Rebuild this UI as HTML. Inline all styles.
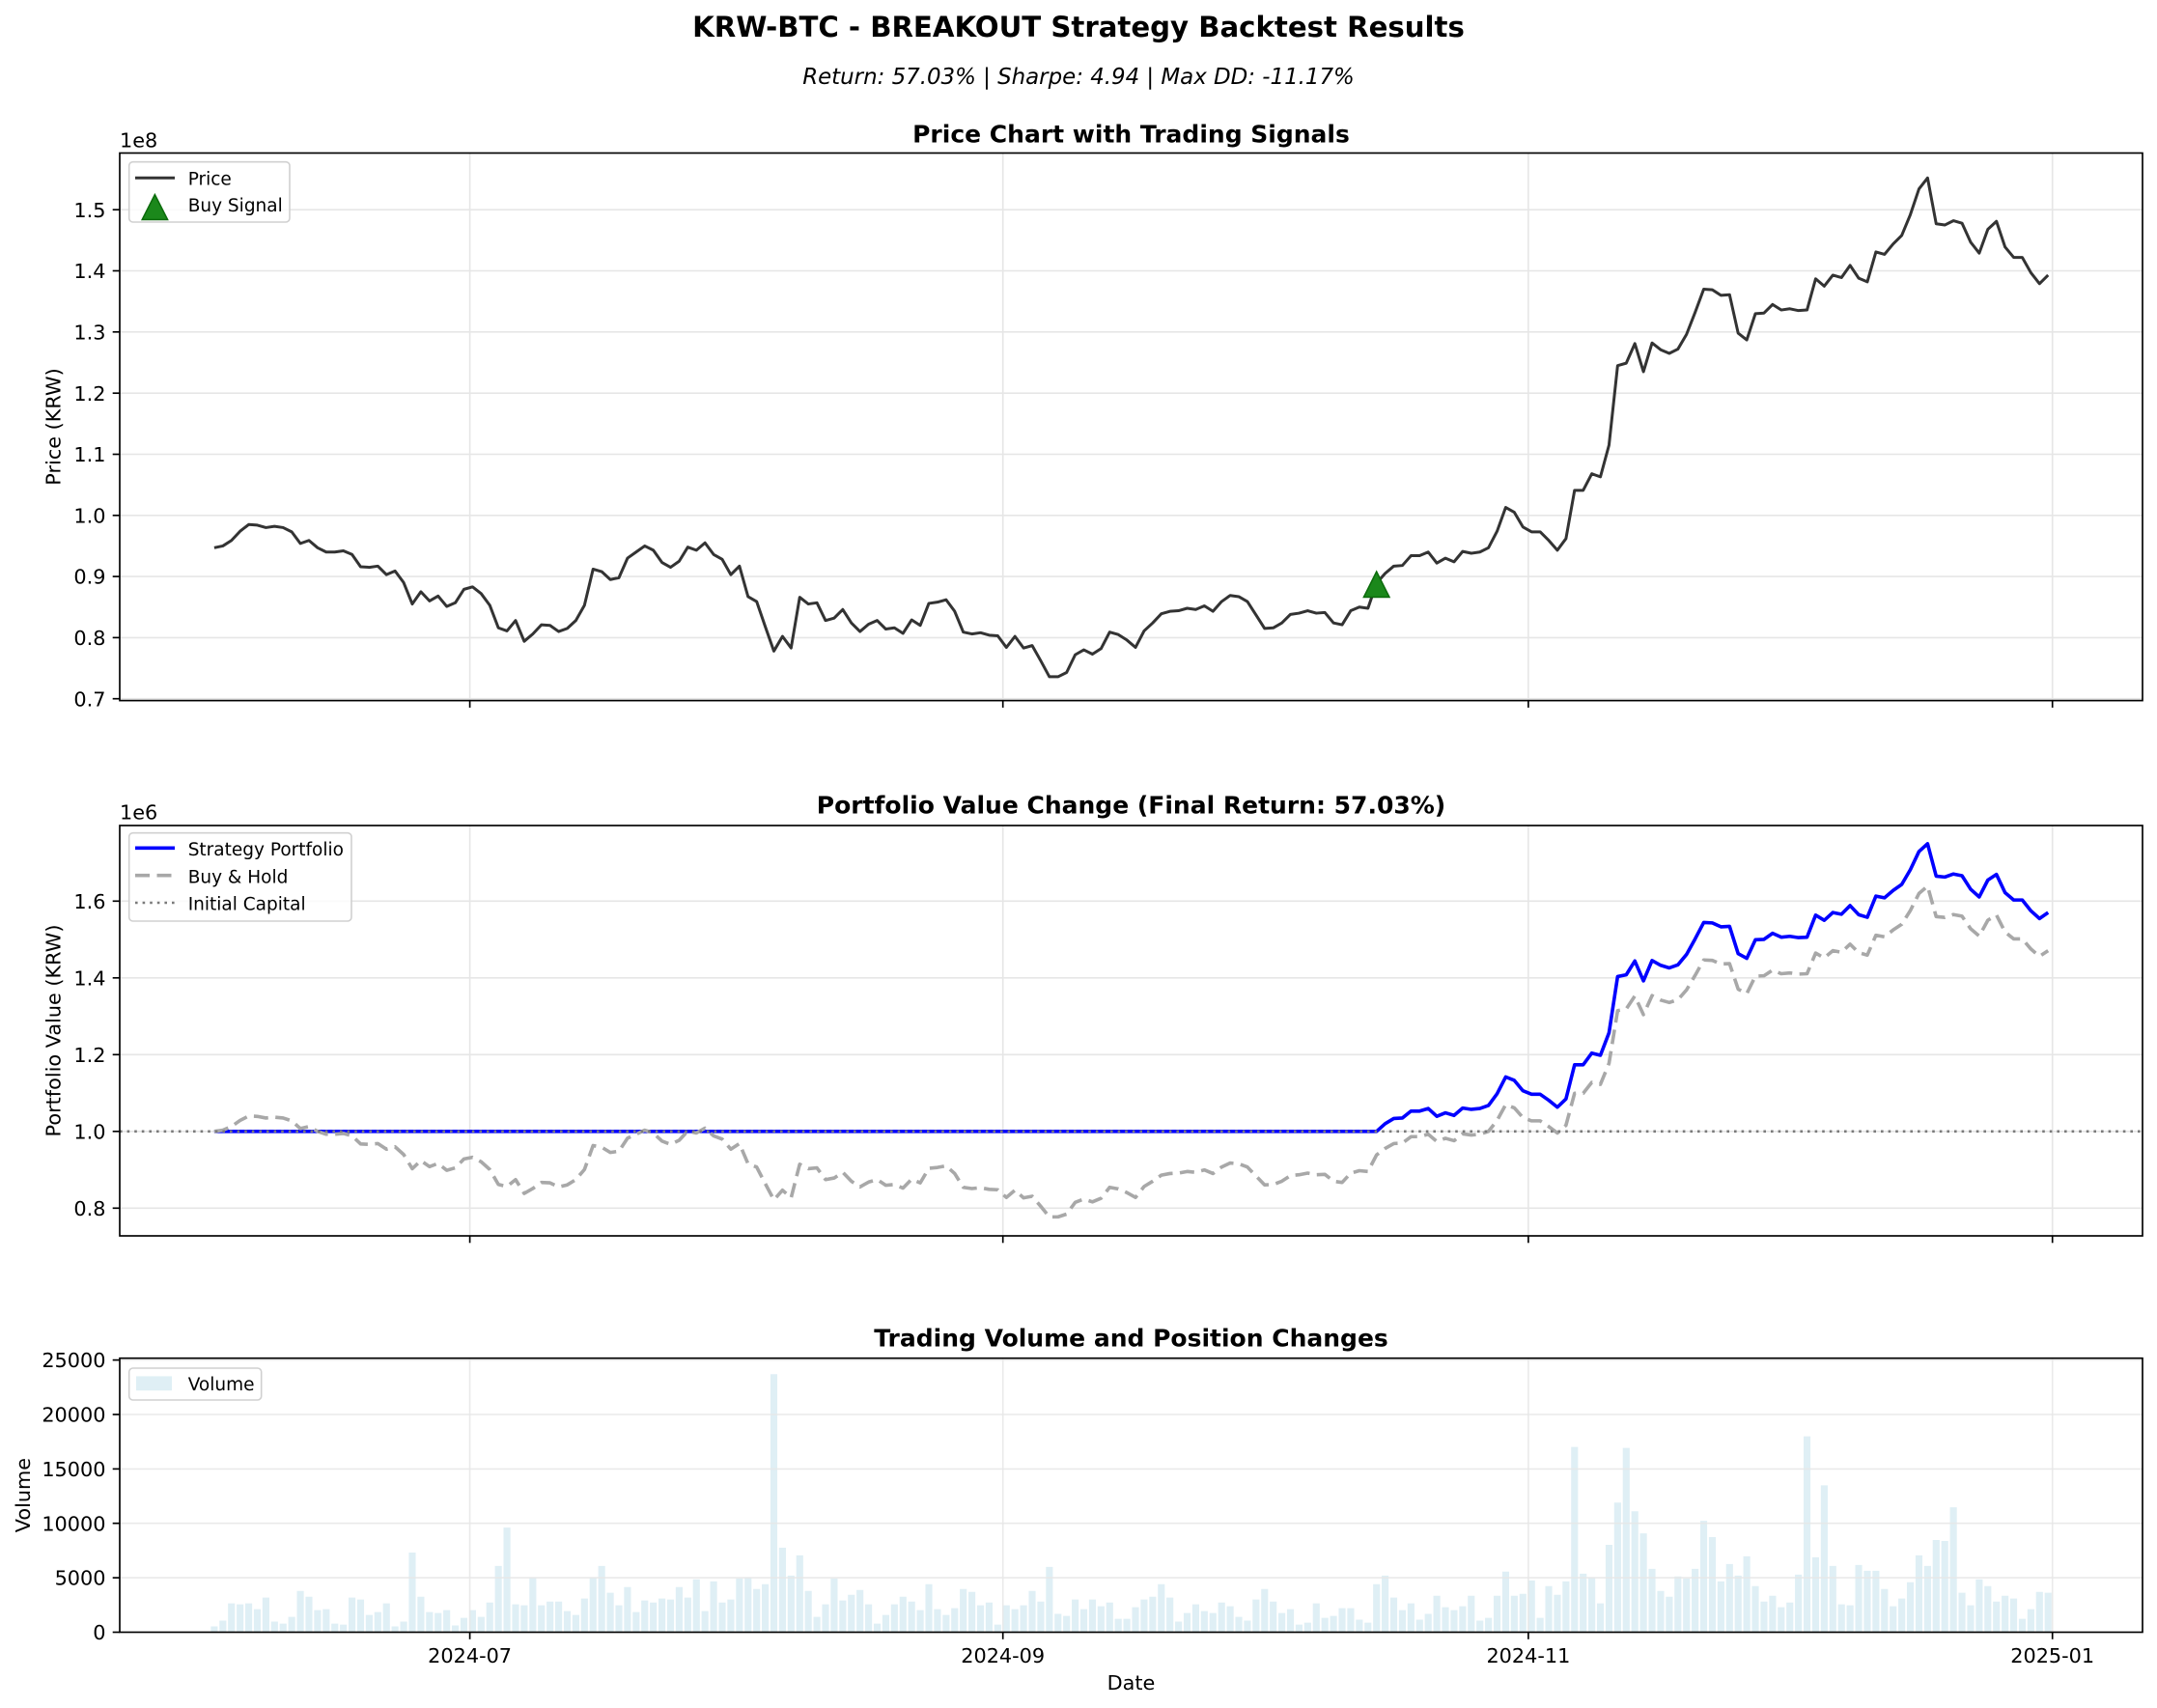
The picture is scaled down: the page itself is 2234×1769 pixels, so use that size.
<!DOCTYPE html>
<html>
<head>
<meta charset="utf-8">
<style>
html,body{margin:0;padding:0;background:#fff;}
svg{display:block;}
text{font-family:"DejaVu Sans","Liberation Sans",sans-serif;fill:#000;}
</style>
</head>
<body>
<svg width="2234" height="1769" viewBox="0 0 2234 1769" xmlns="http://www.w3.org/2000/svg">
<rect x="0" y="0" width="2234" height="1769" fill="#fff"/>

<!-- Titles -->
<text x="1117" y="38" font-size="29.2" font-weight="bold" text-anchor="middle">KRW-BTC - BREAKOUT Strategy Backtest Results</text>
<text x="1117" y="87" font-size="22.9" font-style="italic" text-anchor="middle">Return: 57.03% | Sharpe: 4.94 | Max DD: -11.17%</text>

<!-- ================= PRICE AXES ================= -->
<text x="1171.5" y="147.5" font-size="25" font-weight="bold" text-anchor="middle">Price Chart with Trading Signals</text>
<text x="124" y="152.5" font-size="20.8">1e8</text>
<g stroke="#e6e6e6" stroke-width="1.6">
<line x1="124" x2="2219" y1="217.2" y2="217.2"/>
<line x1="124" x2="2219" y1="280.5" y2="280.5"/>
<line x1="124" x2="2219" y1="343.8" y2="343.8"/>
<line x1="124" x2="2219" y1="407.2" y2="407.2"/>
<line x1="124" x2="2219" y1="470.5" y2="470.5"/>
<line x1="124" x2="2219" y1="533.8" y2="533.8"/>
<line x1="124" x2="2219" y1="597.1" y2="597.1"/>
<line x1="124" x2="2219" y1="660.4" y2="660.4"/>
<line x1="124" x2="2219" y1="723.7" y2="723.7"/>
<line x1="486.6" x2="486.6" y1="158.5" y2="725.6"/>
<line x1="1038.7" x2="1038.7" y1="158.5" y2="725.6"/>
<line x1="1582.9" x2="1582.9" y1="158.5" y2="725.6"/>
<line x1="2125.7" x2="2125.7" y1="158.5" y2="725.6"/>
</g>
<polyline transform="matrix(8.917 0 0 -633.1 221.9 1166.87)" vector-effect="non-scaling-stroke" fill="none" stroke="#333333" stroke-width="3.0" stroke-linejoin="round" points="0,.947 1,.950 2,.959 3,.974 4,.985 5,.984 6,.980 7,.982 8,.980 9,.973 10,.954 11,.959 12,.947 13,.940 14,.940 15,.942 16,.936 17,.916 18,.915 19,.917 20,.903 21,.909 22,.890 23,.855 24,.875 25,.860 26,.868 27,.851 28,.857 29,.879 30,.883 31,.872 32,.853 33,.816 34,.811 35,.828 36,.794 37,.806 38,.821 39,.820 40,.810 41,.815 42,.828 43,.853 44,.912 45,.908 46,.895 47,.898 48,.930 49,.940 50,.950 51,.943 52,.923 53,.915 54,.925 55,.948 56,.943 57,.955 58,.936 59,.928 60,.903 61,.917 62,.867 63,.859 64,.818 65,.778 66,.802 67,.783 68,.866 69,.855 70,.857 71,.828 72,.832 73,.846 74,.824 75,.810 76,.822 77,.828 78,.814 79,.816 80,.807 81,.829 82,.820 83,.856 84,.858 85,.862 86,.843 87,.809 88,.806 89,.808 90,.804 91,.803 92,.784 93,.802 94,.783 95,.787 96,.762 97,.736 98,.736 99,.743 100,.772 101,.780 102,.773 103,.782 104,.809 105,.805 106,.796 107,.784 108,.811 109,.824 110,.839 111,.843 112,.844 113,.848 114,.846 115,.852 116,.843 117,.859 118,.869 119,.867 120,.859 121,.837 122,.815 123,.816 124,.824 125,.838 126,.840 127,.844 128,.840 129,.841 130,.824 131,.821 132,.844 133,.850 134,.848 135,.889 136,.905 137,.917 138,.918 139,.934 140,.934 141,.940 142,.922 143,.930 144,.924 145,.941 146,.938 147,.940 148,.947 149,.974 150,1.013 151,1.005 152,.981 153,.973 154,.973 155,.959 156,.943 157,.962 158,1.041 159,1.041 160,1.068 161,1.063 162,1.115 163,1.245 164,1.249 165,1.281 166,1.235 167,1.282 168,1.271 169,1.265 170,1.272 171,1.296 172,1.332 173,1.370 174,1.369 175,1.360 176,1.361 177,1.298 178,1.287 179,1.330 180,1.331 181,1.345 182,1.336 183,1.338 184,1.335 185,1.336 186,1.387 187,1.375 188,1.393 189,1.389 190,1.409 191,1.388 192,1.382 193,1.431 194,1.427 195,1.444 196,1.458 197,1.492 198,1.534 199,1.552 200,1.477 201,1.475 202,1.482 203,1.478 204,1.447 205,1.429 206,1.468 207,1.481 208,1.439 209,1.422 210,1.422 211,1.397 212,1.379 213,1.393"/>
<!-- Buy signal marker -->
<polygon points="1425.7,592 1412.4,618.5 1439,618.5" fill="#1b881b" stroke="#0b6b0b" stroke-width="1.5" stroke-linejoin="miter"/>
<!-- spines -->
<rect x="124" y="158.5" width="2095" height="567.1" fill="none" stroke="#000" stroke-width="1.67"/>
<!-- ticks -->
<g stroke="#000" stroke-width="1.67">
<line x1="116.7" x2="124" y1="217.2" y2="217.2"/>
<line x1="116.7" x2="124" y1="280.5" y2="280.5"/>
<line x1="116.7" x2="124" y1="343.8" y2="343.8"/>
<line x1="116.7" x2="124" y1="407.2" y2="407.2"/>
<line x1="116.7" x2="124" y1="470.5" y2="470.5"/>
<line x1="116.7" x2="124" y1="533.8" y2="533.8"/>
<line x1="116.7" x2="124" y1="597.1" y2="597.1"/>
<line x1="116.7" x2="124" y1="660.4" y2="660.4"/>
<line x1="116.7" x2="124" y1="723.7" y2="723.7"/>
<line x1="486.6" x2="486.6" y1="725.6" y2="732.9"/>
<line x1="1038.7" x2="1038.7" y1="725.6" y2="732.9"/>
<line x1="1582.9" x2="1582.9" y1="725.6" y2="732.9"/>
<line x1="2125.7" x2="2125.7" y1="725.6" y2="732.9"/>
</g>
<g font-size="20.8" text-anchor="end">
<text x="109.5" y="224.8">1.5</text>
<text x="109.5" y="288.1">1.4</text>
<text x="109.5" y="351.4">1.3</text>
<text x="109.5" y="414.8">1.2</text>
<text x="109.5" y="478.1">1.1</text>
<text x="109.5" y="541.4">1.0</text>
<text x="109.5" y="604.7">0.9</text>
<text x="109.5" y="668.0">0.8</text>
<text x="109.5" y="731.3">0.7</text>
</g>
<text transform="translate(62.5,442) rotate(-90)" font-size="20.8" text-anchor="middle">Price (KRW)</text>
<!-- legend -->
<rect x="133.7" y="167.7" width="166.3" height="62.3" rx="4" ry="4" fill="#fff" fill-opacity="0.8" stroke="#d0d0d0" stroke-width="1.6"/>
<line x1="140" x2="181" y1="184.3" y2="184.3" stroke="#333333" stroke-width="3.0"/>
<polygon points="160.4,201.5 147.2,227.5 173.6,227.5" fill="#1b881b" stroke="#0b6b0b" stroke-width="1.5"/>
<text x="194.7" y="191.5" font-size="18.5">Price</text>
<text x="194.7" y="219.2" font-size="18.5">Buy Signal</text>

<!-- ================= PORTFOLIO AXES ================= -->
<text x="1171.5" y="842.5" font-size="25" font-weight="bold" text-anchor="middle">Portfolio Value Change (Final Return: 57.03%)</text>
<text x="124" y="848.5" font-size="20.8">1e6</text>
<g stroke="#e6e6e6" stroke-width="1.6">
<line x1="124" x2="2219" y1="933.3" y2="933.3"/>
<line x1="124" x2="2219" y1="1012.8" y2="1012.8"/>
<line x1="124" x2="2219" y1="1092.3" y2="1092.3"/>
<line x1="124" x2="2219" y1="1171.8" y2="1171.8"/>
<line x1="124" x2="2219" y1="1251.3" y2="1251.3"/>
<line x1="486.6" x2="486.6" y1="855" y2="1280"/>
<line x1="1038.7" x2="1038.7" y1="855" y2="1280"/>
<line x1="1582.9" x2="1582.9" y1="855" y2="1280"/>
<line x1="2125.7" x2="2125.7" y1="855" y2="1280"/>
</g>
<!-- strategy -->
<polyline transform="matrix(8.917 0 0 -448.09 221.9 1569.3)" vector-effect="non-scaling-stroke" fill="none" stroke="#0000ff" stroke-width="3.6" stroke-linejoin="round" points="0,.8871 135,.8871 136,.905 137,.917 138,.918 139,.934 140,.934 141,.940 142,.922 143,.930 144,.924 145,.941 146,.938 147,.940 148,.947 149,.974 150,1.013 151,1.005 152,.981 153,.973 154,.973 155,.959 156,.943 157,.962 158,1.041 159,1.041 160,1.068 161,1.063 162,1.115 163,1.245 164,1.249 165,1.281 166,1.235 167,1.282 168,1.271 169,1.265 170,1.272 171,1.296 172,1.332 173,1.370 174,1.369 175,1.360 176,1.361 177,1.298 178,1.287 179,1.330 180,1.331 181,1.345 182,1.336 183,1.338 184,1.335 185,1.336 186,1.387 187,1.375 188,1.393 189,1.389 190,1.409 191,1.388 192,1.382 193,1.431 194,1.427 195,1.444 196,1.458 197,1.492 198,1.534 199,1.552 200,1.477 201,1.475 202,1.482 203,1.478 204,1.447 205,1.429 206,1.468 207,1.481 208,1.439 209,1.422 210,1.422 211,1.397 212,1.379 213,1.393"/>
<!-- buy & hold -->
<polyline transform="matrix(8.917 0 0 -419.75 221.9 1569.3)" vector-effect="non-scaling-stroke" fill="none" stroke="#a8a8a8" stroke-width="3.6" stroke-dasharray="15 7.5" stroke-linejoin="round" points="0,.947 1,.950 2,.959 3,.974 4,.985 5,.984 6,.980 7,.982 8,.980 9,.973 10,.954 11,.959 12,.947 13,.940 14,.940 15,.942 16,.936 17,.916 18,.915 19,.917 20,.903 21,.909 22,.890 23,.855 24,.875 25,.860 26,.868 27,.851 28,.857 29,.879 30,.883 31,.872 32,.853 33,.816 34,.811 35,.828 36,.794 37,.806 38,.821 39,.820 40,.810 41,.815 42,.828 43,.853 44,.912 45,.908 46,.895 47,.898 48,.930 49,.940 50,.950 51,.943 52,.923 53,.915 54,.925 55,.948 56,.943 57,.955 58,.936 59,.928 60,.903 61,.917 62,.867 63,.859 64,.818 65,.778 66,.802 67,.783 68,.866 69,.855 70,.857 71,.828 72,.832 73,.846 74,.824 75,.810 76,.822 77,.828 78,.814 79,.816 80,.807 81,.829 82,.820 83,.856 84,.858 85,.862 86,.843 87,.809 88,.806 89,.808 90,.804 91,.803 92,.784 93,.802 94,.783 95,.787 96,.762 97,.736 98,.736 99,.743 100,.772 101,.780 102,.773 103,.782 104,.809 105,.805 106,.796 107,.784 108,.811 109,.824 110,.839 111,.843 112,.844 113,.848 114,.846 115,.852 116,.843 117,.859 118,.869 119,.867 120,.859 121,.837 122,.815 123,.816 124,.824 125,.838 126,.840 127,.844 128,.840 129,.841 130,.824 131,.821 132,.844 133,.850 134,.848 135,.889 136,.905 137,.917 138,.918 139,.934 140,.934 141,.940 142,.922 143,.930 144,.924 145,.941 146,.938 147,.940 148,.947 149,.974 150,1.013 151,1.005 152,.981 153,.973 154,.973 155,.959 156,.943 157,.962 158,1.041 159,1.041 160,1.068 161,1.063 162,1.115 163,1.245 164,1.249 165,1.281 166,1.235 167,1.282 168,1.271 169,1.265 170,1.272 171,1.296 172,1.332 173,1.370 174,1.369 175,1.360 176,1.361 177,1.298 178,1.287 179,1.330 180,1.331 181,1.345 182,1.336 183,1.338 184,1.335 185,1.336 186,1.387 187,1.375 188,1.393 189,1.389 190,1.409 191,1.388 192,1.382 193,1.431 194,1.427 195,1.444 196,1.458 197,1.492 198,1.534 199,1.552 200,1.477 201,1.475 202,1.482 203,1.478 204,1.447 205,1.429 206,1.468 207,1.481 208,1.439 209,1.422 210,1.422 211,1.397 212,1.379 213,1.393"/>
<!-- initial capital -->
<line x1="124" x2="2219" y1="1171.8" y2="1171.8" stroke="#7a7a7a" stroke-width="2.6" stroke-dasharray="2.6 5"/>
<rect x="124" y="855" width="2095" height="425" fill="none" stroke="#000" stroke-width="1.67"/>
<g stroke="#000" stroke-width="1.67">
<line x1="116.7" x2="124" y1="933.3" y2="933.3"/>
<line x1="116.7" x2="124" y1="1012.8" y2="1012.8"/>
<line x1="116.7" x2="124" y1="1092.3" y2="1092.3"/>
<line x1="116.7" x2="124" y1="1171.8" y2="1171.8"/>
<line x1="116.7" x2="124" y1="1251.3" y2="1251.3"/>
<line x1="486.6" x2="486.6" y1="1280" y2="1287.3"/>
<line x1="1038.7" x2="1038.7" y1="1280" y2="1287.3"/>
<line x1="1582.9" x2="1582.9" y1="1280" y2="1287.3"/>
<line x1="2125.7" x2="2125.7" y1="1280" y2="1287.3"/>
</g>
<g font-size="20.8" text-anchor="end">
<text x="109.5" y="940.9">1.6</text>
<text x="109.5" y="1020.4">1.4</text>
<text x="109.5" y="1099.9">1.2</text>
<text x="109.5" y="1179.4">1.0</text>
<text x="109.5" y="1258.9">0.8</text>
</g>
<text transform="translate(62.5,1067.5) rotate(-90)" font-size="20.8" text-anchor="middle">Portfolio Value (KRW)</text>
<!-- legend -->
<rect x="133.7" y="862.7" width="230.3" height="91.3" rx="4" ry="4" fill="#fff" fill-opacity="0.8" stroke="#d0d0d0" stroke-width="1.6"/>
<line x1="140" x2="181" y1="878.3" y2="878.3" stroke="#0000ff" stroke-width="3.6"/>
<line x1="140" x2="181" y1="906.7" y2="906.7" stroke="#a8a8a8" stroke-width="3.6" stroke-dasharray="15 7.5"/>
<line x1="140" x2="181" y1="935" y2="935" stroke="#7a7a7a" stroke-width="2.6" stroke-dasharray="2.6 5"/>
<text x="194.7" y="885.8" font-size="18.5">Strategy Portfolio</text>
<text x="194.7" y="914.3" font-size="18.5">Buy &amp; Hold</text>
<text x="194.7" y="942.7" font-size="18.5">Initial Capital</text>

<!-- ================= VOLUME AXES ================= -->
<text x="1171.5" y="1394.5" font-size="25" font-weight="bold" text-anchor="middle">Trading Volume and Position Changes</text>
<path transform="matrix(8.917 0 0 -0.011276 221.9 1690.5)" fill="#dfeff5" d="M-.4,0h.8v530h-.8zm1,0h.8v1060h-.8zm1,0h.8v2650h-.8zm1,0h.8v2560h-.8zm1,0h.8v2650h-.8zm1,0h.8v2120h-.8zm1,0h.8v3180h-.8zm1,0h.8v970h-.8zm1,0h.8v790h-.8zm1,0h.8v1410h-.8zm1,0h.8v3790h-.8zm1,0h.8v3260h-.8zm1,0h.8v2030h-.8zm1,0h.8v2120h-.8zm1,0h.8v790h-.8zm1,0h.8v700h-.8zm1,0h.8v3180h-.8zm1,0h.8v3000h-.8zm1,0h.8v1590h-.8zm1,0h.8v1850h-.8zm1,0h.8v2650h-.8zm1,0h.8v530h-.8zm1,0h.8v970h-.8zm1,0h.8v7320h-.8zm1,0h.8v3260h-.8zm1,0h.8v1850h-.8zm1,0h.8v1760h-.8zm1,0h.8v2030h-.8zm1,0h.8v620h-.8zm1,0h.8v1320h-.8zm1,0h.8v2030h-.8zm1,0h.8v1410h-.8zm1,0h.8v2730h-.8zm1,0h.8v6090h-.8zm1,0h.8v9610h-.8zm1,0h.8v2560h-.8zm1,0h.8v2470h-.8zm1,0h.8v5030h-.8zm1,0h.8v2470h-.8zm1,0h.8v2820h-.8zm1,0h.8v2820h-.8zm1,0h.8v1940h-.8zm1,0h.8v1590h-.8zm1,0h.8v3090h-.8zm1,0h.8v5030h-.8zm1,0h.8v6090h-.8zm1,0h.8v3620h-.8zm1,0h.8v2470h-.8zm1,0h.8v4150h-.8zm1,0h.8v1850h-.8zm1,0h.8v2910h-.8zm1,0h.8v2730h-.8zm1,0h.8v3090h-.8zm1,0h.8v3000h-.8zm1,0h.8v4150h-.8zm1,0h.8v3180h-.8zm1,0h.8v4850h-.8zm1,0h.8v1940h-.8zm1,0h.8v4670h-.8zm1,0h.8v2730h-.8zm1,0h.8v3000h-.8zm1,0h.8v4940h-.8zm1,0h.8v5030h-.8zm1,0h.8v3970h-.8zm1,0h.8v4410h-.8zm1,0h.8v23700h-.8zm1,0h.8v7760h-.8zm1,0h.8v5200h-.8zm1,0h.8v7060h-.8zm1,0h.8v3790h-.8zm1,0h.8v1410h-.8zm1,0h.8v2560h-.8zm1,0h.8v4940h-.8zm1,0h.8v2910h-.8zm1,0h.8v3440h-.8zm1,0h.8v3880h-.8zm1,0h.8v2560h-.8zm1,0h.8v790h-.8zm1,0h.8v1590h-.8zm1,0h.8v2560h-.8zm1,0h.8v3260h-.8zm1,0h.8v2820h-.8zm1,0h.8v2030h-.8zm1,0h.8v4410h-.8zm1,0h.8v2120h-.8zm1,0h.8v1590h-.8zm1,0h.8v2210h-.8zm1,0h.8v3970h-.8zm1,0h.8v3700h-.8zm1,0h.8v2470h-.8zm1,0h.8v2730h-.8zm1,0h.8v700h-.8zm1,0h.8v2470h-.8zm1,0h.8v2120h-.8zm1,0h.8v2470h-.8zm1,0h.8v3790h-.8zm1,0h.8v2820h-.8zm1,0h.8v6000h-.8zm1,0h.8v1680h-.8zm1,0h.8v1500h-.8zm1,0h.8v3000h-.8zm1,0h.8v2120h-.8zm1,0h.8v3000h-.8zm1,0h.8v2380h-.8zm1,0h.8v2730h-.8zm1,0h.8v1230h-.8zm1,0h.8v1230h-.8zm1,0h.8v2290h-.8zm1,0h.8v3000h-.8zm1,0h.8v3260h-.8zm1,0h.8v4410h-.8zm1,0h.8v3180h-.8zm1,0h.8v970h-.8zm1,0h.8v1760h-.8zm1,0h.8v2560h-.8zm1,0h.8v1940h-.8zm1,0h.8v1760h-.8zm1,0h.8v2730h-.8zm1,0h.8v2380h-.8zm1,0h.8v1410h-.8zm1,0h.8v1060h-.8zm1,0h.8v3000h-.8zm1,0h.8v3970h-.8zm1,0h.8v2820h-.8zm1,0h.8v1760h-.8zm1,0h.8v2120h-.8zm1,0h.8v700h-.8zm1,0h.8v880h-.8zm1,0h.8v2650h-.8zm1,0h.8v1320h-.8zm1,0h.8v1500h-.8zm1,0h.8v2210h-.8zm1,0h.8v2210h-.8zm1,0h.8v1150h-.8zm1,0h.8v880h-.8zm1,0h.8v4410h-.8zm1,0h.8v5200h-.8zm1,0h.8v3180h-.8zm1,0h.8v2030h-.8zm1,0h.8v2650h-.8zm1,0h.8v1150h-.8zm1,0h.8v1680h-.8zm1,0h.8v3350h-.8zm1,0h.8v2290h-.8zm1,0h.8v2030h-.8zm1,0h.8v2380h-.8zm1,0h.8v3350h-.8zm1,0h.8v1060h-.8zm1,0h.8v1320h-.8zm1,0h.8v3350h-.8zm1,0h.8v5560h-.8zm1,0h.8v3350h-.8zm1,0h.8v3530h-.8zm1,0h.8v4760h-.8zm1,0h.8v1320h-.8zm1,0h.8v4230h-.8zm1,0h.8v3440h-.8zm1,0h.8v4670h-.8zm1,0h.8v17020h-.8zm1,0h.8v5380h-.8zm1,0h.8v5030h-.8zm1,0h.8v2650h-.8zm1,0h.8v8030h-.8zm1,0h.8v11910h-.8zm1,0h.8v16930h-.8zm1,0h.8v11110h-.8zm1,0h.8v9080h-.8zm1,0h.8v5820h-.8zm1,0h.8v3790h-.8zm1,0h.8v3260h-.8zm1,0h.8v5120h-.8zm1,0h.8v4940h-.8zm1,0h.8v5820h-.8zm1,0h.8v10230h-.8zm1,0h.8v8730h-.8zm1,0h.8v4670h-.8zm1,0h.8v6260h-.8zm1,0h.8v5200h-.8zm1,0h.8v6970h-.8zm1,0h.8v4230h-.8zm1,0h.8v2820h-.8zm1,0h.8v3350h-.8zm1,0h.8v2290h-.8zm1,0h.8v2730h-.8zm1,0h.8v5290h-.8zm1,0h.8v17990h-.8zm1,0h.8v6880h-.8zm1,0h.8v13490h-.8zm1,0h.8v6090h-.8zm1,0h.8v2560h-.8zm1,0h.8v2470h-.8zm1,0h.8v6170h-.8zm1,0h.8v5640h-.8zm1,0h.8v5640h-.8zm1,0h.8v3970h-.8zm1,0h.8v2380h-.8zm1,0h.8v3090h-.8zm1,0h.8v4590h-.8zm1,0h.8v7060h-.8zm1,0h.8v6090h-.8zm1,0h.8v8470h-.8zm1,0h.8v8380h-.8zm1,0h.8v11470h-.8zm1,0h.8v3620h-.8zm1,0h.8v2470h-.8zm1,0h.8v4850h-.8zm1,0h.8v4230h-.8zm1,0h.8v2820h-.8zm1,0h.8v3350h-.8zm1,0h.8v3090h-.8zm1,0h.8v1230h-.8zm1,0h.8v2120h-.8zm1,0h.8v3700h-.8zm1,0h.8v3620h-.8z"/>
<g stroke="#e6e6e6" stroke-width="1.6" stroke-opacity="0.85">
<line x1="124" x2="2219" y1="1408.6" y2="1408.6"/>
<line x1="124" x2="2219" y1="1465.0" y2="1465.0"/>
<line x1="124" x2="2219" y1="1521.4" y2="1521.4"/>
<line x1="124" x2="2219" y1="1577.7" y2="1577.7"/>
<line x1="124" x2="2219" y1="1634.1" y2="1634.1"/>
<line x1="486.6" x2="486.6" y1="1406.7" y2="1690.5"/>
<line x1="1038.7" x2="1038.7" y1="1406.7" y2="1690.5"/>
<line x1="1582.9" x2="1582.9" y1="1406.7" y2="1690.5"/>
<line x1="2125.7" x2="2125.7" y1="1406.7" y2="1690.5"/>
</g>
<rect x="124" y="1406.7" width="2095" height="283.8" fill="none" stroke="#000" stroke-width="1.67"/>
<g stroke="#000" stroke-width="1.67">
<line x1="116.7" x2="124" y1="1408.6" y2="1408.6"/>
<line x1="116.7" x2="124" y1="1465.0" y2="1465.0"/>
<line x1="116.7" x2="124" y1="1521.4" y2="1521.4"/>
<line x1="116.7" x2="124" y1="1577.7" y2="1577.7"/>
<line x1="116.7" x2="124" y1="1634.1" y2="1634.1"/>
<line x1="116.7" x2="124" y1="1690.5" y2="1690.5"/>
<line x1="486.6" x2="486.6" y1="1690.5" y2="1697.8"/>
<line x1="1038.7" x2="1038.7" y1="1690.5" y2="1697.8"/>
<line x1="1582.9" x2="1582.9" y1="1690.5" y2="1697.8"/>
<line x1="2125.7" x2="2125.7" y1="1690.5" y2="1697.8"/>
</g>
<g font-size="20.8" text-anchor="end">
<text x="109.5" y="1416.2">25000</text>
<text x="109.5" y="1472.6">20000</text>
<text x="109.5" y="1529.0">15000</text>
<text x="109.5" y="1585.3">10000</text>
<text x="109.5" y="1641.7">5000</text>
<text x="109.5" y="1698.1">0</text>
</g>
<g font-size="20.8" text-anchor="middle">
<text x="486.6" y="1722">2024-07</text>
<text x="1038.7" y="1722">2024-09</text>
<text x="1582.9" y="1722">2024-11</text>
<text x="2125.7" y="1722">2025-01</text>
<text x="1171.5" y="1750">Date</text>
</g>
<text transform="translate(31,1548.6) rotate(-90)" font-size="20.8" text-anchor="middle">Volume</text>
<!-- legend -->
<rect x="133.7" y="1417" width="137" height="33" rx="4" ry="4" fill="#fff" fill-opacity="0.8" stroke="#d0d0d0" stroke-width="1.6"/>
<rect x="141" y="1425.4" width="37" height="14.8" fill="#dfeff5"/>
<text x="194.7" y="1440" font-size="18.5">Volume</text>
</svg>
</body>
</html>
